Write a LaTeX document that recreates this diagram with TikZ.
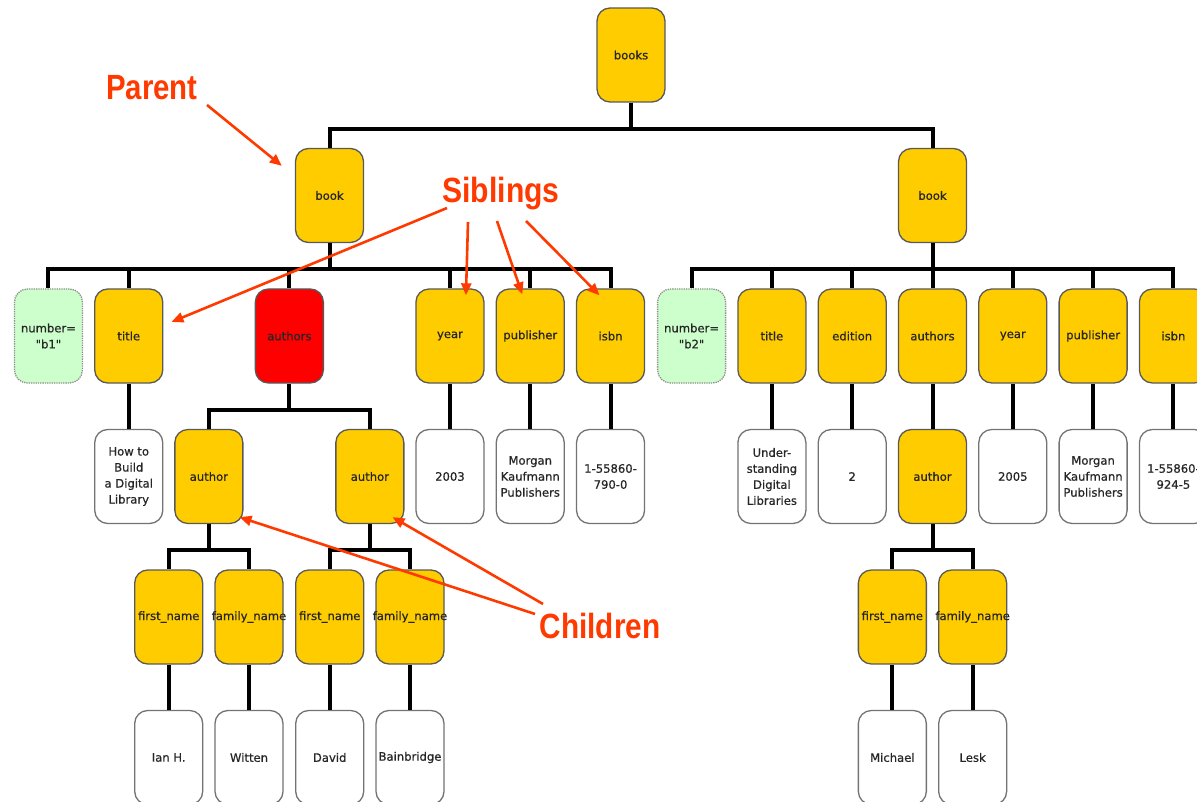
\documentclass[tikz,border=0pt]{standalone}
\usepackage{fontspec}
\newfontfamily\boxfont[FakeBold=0.6]{DejaVu Sans}
\newfontfamily\notefont{Liberation Sans}
\usepackage{tikz}
\usetikzlibrary{trees,arrows.meta}
\definecolor{elemyellow}{HTML}{FFCC00}
\definecolor{chosenred}{HTML}{FF0000}
\definecolor{attrgreen}{HTML}{CCFFCC}
\definecolor{notered}{HTML}{FF3A00}

\begin{document}
\begin{tikzpicture}[x=1pt, y=-1pt,
    box/.style={rectangle, rounded corners=13pt, minimum width=68pt, minimum height=94pt, inner sep=0pt,
        align=center, line width=1.3pt, text=black!85, font=\boxfont\fontsize{11.6}{16}\selectfont},
    elem/.style={box, draw=black!65, fill=elemyellow},
    chosen/.style={box, draw=black!65, fill=chosenred},
    attr/.style={box, draw=black!45, densely dotted, fill=attrgreen},
    val/.style={box, draw=black!55, fill=white},
    tag/.style={text=notered, font=\notefont\bfseries\fontsize{35}{40}\selectfont, inner sep=0pt, anchor=base},
    note/.style={draw=notered, line width=2.6pt, -{Triangle[length=12pt,width=10pt]}},
    edge from parent/.style={draw, line width=4pt},
    edge from parent path={(\tikzparentnode.south) -- +(0pt,-26pt) -| (\tikzchildnode.north)},
    level distance=140.5pt,
    level 1/.style={sibling distance=603pt},
    level 2/.style={sibling distance=80.3pt},
    level 3/.style={sibling distance=161pt},
    level 4/.style={sibling distance=80.3pt}]
    \useasboundingbox (0,0) rectangle (1197,802);
    \node[elem] (books) at (631,55) {books}
    child { node[elem] (bookL) {book}
        child { node[attr] (numL) {number=\\"b1"}}
        child { node[elem] (titleL) {title}
            child { node[val] (titleLv) {How to\\Build\\a Digital\\Library}}
        }
        child[missing]
        child { node[chosen] (authorsL) {authors}
            child { node[elem] (authorA) {author}
                child { node[elem] (firstA) {first\_name}
                    child { node[val] (firstAv) {Ian H.}}
                }
                child { node[elem] (familyA) {\makebox[60pt]{family\_name}}
                    child { node[val] (familyAv) {Witten}}
                }
            }
            child { node[elem] (authorB) {author}
                child { node[elem] (firstB) {first\_name}
                    child { node[val] (firstBv) {David}}
                }
                child { node[elem] (familyB) {\makebox[60pt]{family\_name}}
                    child { node[val] (familyBv) {Bainbridge}}
                }
            }
        }
        child[missing]
        child { node[elem] (yearL) {year}
            child { node[val] (yearLv) {2003}}
        }
        child { node[elem] (pubL) {publisher}
            child { node[val] (pubLv) {Morgan\\Kaufmann\\Publishers}}
        }
        child { node[elem] (isbnL) {isbn}
            child { node[val] (isbnLv) {1-55860-\\790-0}}
        }
    }
    child { node[elem] (bookR) {book}
        child { node[attr] (numR) {number=\\"b2"}}
        child { node[elem] (titleR) {title}
            child { node[val] (titleRv) {Under-\\standing\\Digital\\Libraries}}
        }
        child { node[elem] (editionR) {edition}
            child { node[val] (editionRv) {2}}
        }
        child { node[elem] (authorsR) {authors}
            child { node[elem] (authorC) {author}
                child { node[elem] (firstC) {first\_name}
                    child { node[val] (firstCv) {Michael}}
                }
                child { node[elem] (familyC) {\makebox[60pt]{family\_name}}
                    child { node[val] (familyCv) {Lesk}}
                }
            }
        }
        child { node[elem] (yearR) {year}
            child { node[val] (yearRv) {2005}}
        }
        child { node[elem] (pubR) {publisher}
            child { node[val] (pubRv) {Morgan\\Kaufmann\\Publishers}}
        }
        child { node[elem] (isbnR) {isbn}
            child { node[val] (isbnRv) {1-55860-\\924-5}}
        }
    };
    \node[tag] (parentTag) at (152,100) {\scalebox{.84}[1]{Parent}};
    \node[tag] (siblingsTag) at (501,203) {\scalebox{.86}[1]{Siblings}};
    \node[tag] (childrenTag) at (600,638) {\scalebox{.85}[1]{Children}};
    \draw[note] ([shift={(55,5)}]parentTag.base) -- ([shift={(-13,18)}]bookL.north west);
    \draw[note] ([shift={(-54,5)}]siblingsTag.base) -- ([shift={(8,-14)}]titleL.east);
    \draw[note] ([shift={(-33,19)}]siblingsTag.base) -- ([shift={(16,7)}]yearL.north);
    \draw[note] ([shift={(-4,18)}]siblingsTag.base) -- ([shift={(-8,6)}]pubL.north);
    \draw[note] ([shift={(25,18)}]siblingsTag.base) -- ([shift={(-11,7)}]isbnL.north);
    \draw[note] ([shift={(-65,-24)}]childrenTag.base) -- ([shift={(-4,-7)}]authorA.south east);
    \draw[note] ([shift={(-57,-34)}]childrenTag.base) -- ([shift={(-12,-7)}]authorB.south east);
\end{tikzpicture}
\end{document}
